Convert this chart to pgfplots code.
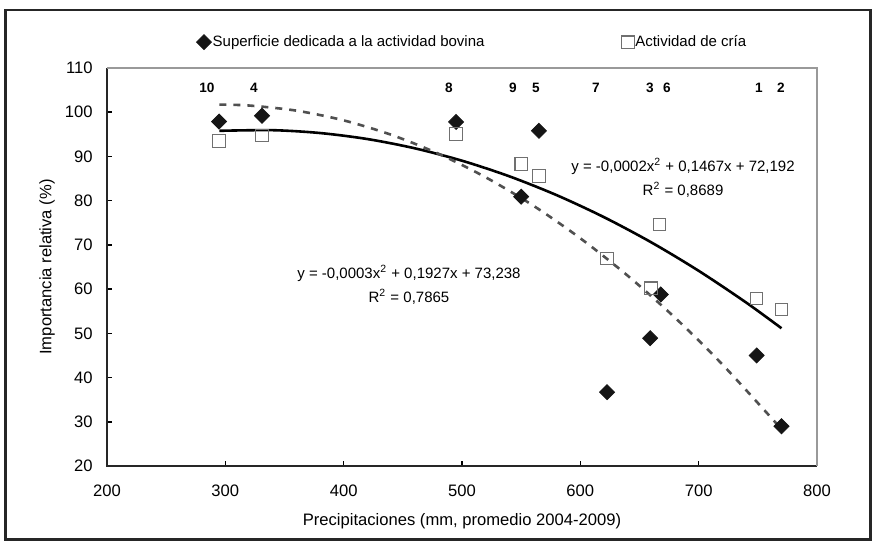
\documentclass[border=0pt]{standalone}
\usepackage{fontspec}
\setmainfont{Liberation Sans}
\usepackage{pgfplots}
\pgfplotsset{compat=1.18}
\definecolor{sqgray}{HTML}{707070}
\definecolor{dashgray}{HTML}{505050}
\definecolor{diam}{HTML}{151515}
\pgfplotsset{mylegimg/.style={legend image code/.code={\draw[mark repeat=2,mark phase=2,##1] plot coordinates {(0pt,0pt)(3pt,0pt)(6pt,0pt)};}}}
\begin{document}
\begin{tikzpicture}
\path[use as bounding box] (0pt,0pt) rectangle (437.5pt,271pt);
\draw[line width=1.3pt, black!85] (2.6pt,1.2pt) rectangle (435.2pt,266pt);
\begin{axis}[
  at={(53.5pt,38pt)}, anchor=south west,
  scale only axis, width=355pt, height=199pt,
  xmin=200, xmax=800, ymin=20, ymax=110,
  xtick={200,300,...,800}, ytick={20,30,...,110},
  axis line style={draw=none},
  tick align=inside, xtick pos=bottom, ytick pos=left,
  major tick length=2.6pt,
  tick style={black, line width=0.8pt},
  /pgf/number format/assume math mode=true,
  font=\fontsize{7.8}{9}\selectfont,
  ticklabel style={font=\fontsize{8.3}{10}\selectfont},
  xticklabel style={anchor=center, yshift=-12.5pt, inner sep=0pt},
  yticklabel style={anchor=east, xshift=-7pt, inner sep=0pt},
  xlabel={Precipitaciones (mm, promedio 2004-2009)},
  ylabel={Importancia relativa (\%)},
  xlabel style={at={(axis description cs:0.5,-0.138)}, anchor=center, font=\fontsize{8.3}{10}\selectfont},
  ylabel style={at={(axis description cs:-0.0845,0.5)}, anchor=center, rotate=0, font=\fontsize{8.3}{10}\selectfont},
  legend columns=2,
  legend style={at={(axis description cs:0.514,1.065)}, anchor=center, draw=none, fill=none,
    font=\fontsize{7.5}{9}\selectfont,
    /tikz/every even column/.append style={column sep=68pt},
    nodes={inner sep=0.6pt}},
  clip=false,
]
\draw[black!85, line width=1pt] (rel axis cs:0,1) -- (rel axis cs:0,0) -- (rel axis cs:1,0);
\draw[gray!80, line width=0.8pt] (rel axis cs:0,1) -- (rel axis cs:1,1) -- (rel axis cs:1,0);

\addplot[only marks, mark=square*, mark size=2.65pt, mark options={rotate=45, fill=diam, draw=diam}, mylegimg]
  coordinates {(294.7,97.9) (331,99.2) (495,97.8) (550,80.9) (565,95.8) (622.6,36.7) (659,48.9) (668,58.8) (749,45) (770,29)};
\addlegendentry{Superficie dedicada a la actividad bovina}
\addplot[only marks, mark=square, mark size=3.1pt, mark options={draw=sqgray, line width=0.6pt, fill=none}, mylegimg]
  coordinates {(294.7,93.5) (331,94.7) (495,95.1) (550,88.3) (565,85.6) (622.6,66.9) (659.7,60.2) (667,74.6) (749,57.9) (770,55.4)};
\addlegendentry{Actividad de cría}

\addplot[no marks, black, line width=1.3pt, smooth, forget plot]
  coordinates {(295,95.80) (340,95.94) (380,95.30) (420,93.94) (460,91.85) (500,89.04) (540,85.51) (580,81.25) (620,76.27) (660,70.57) (700,64.14) (740,56.99) (770,51.15)};
\addplot[no marks, dashgray, line width=1.3pt, smooth, dash pattern=on 3.5pt off 3.5pt, forget plot]
  coordinates {(295,101.72) (320,101.52) (360,100.36) (400,98.16) (440,94.92) (480,90.63) (520,85.29) (560,78.92) (600,71.50) (640,63.04) (680,53.54) (720,42.98) (770,28.34)};

\node[align=center, font=\fontsize{7.5}{12}\selectfont] at (axis cs:686.8,85.1) {y = -0,0002x\textsuperscript{2} + 0,1467x + 72,192\\R\textsuperscript{2} = 0,8689};
\node[align=center, font=\fontsize{7.5}{12}\selectfont] at (axis cs:455.2,61.0) {y = -0,0003x\textsuperscript{2} + 0,1927x + 73,238\\R\textsuperscript{2} = 0,7865};

\begin{scope}[every node/.style={font=\bfseries\fontsize{6.8}{8}\selectfont}]
\node at (axis cs:284.5,105.5) {10};
\node at (axis cs:324.2,105.5) {4};
\node at (axis cs:489,105.5) {8};
\node at (axis cs:543.1,105.5) {9};
\node at (axis cs:562.5,105.5) {5};
\node at (axis cs:613.2,105.5) {7};
\node at (axis cs:658.9,105.5) {3};
\node at (axis cs:673.2,105.5) {6};
\node at (axis cs:751,105.5) {1};
\node at (axis cs:769.6,105.5) {2};
\end{scope}
\end{axis}
\end{tikzpicture}
\end{document}
